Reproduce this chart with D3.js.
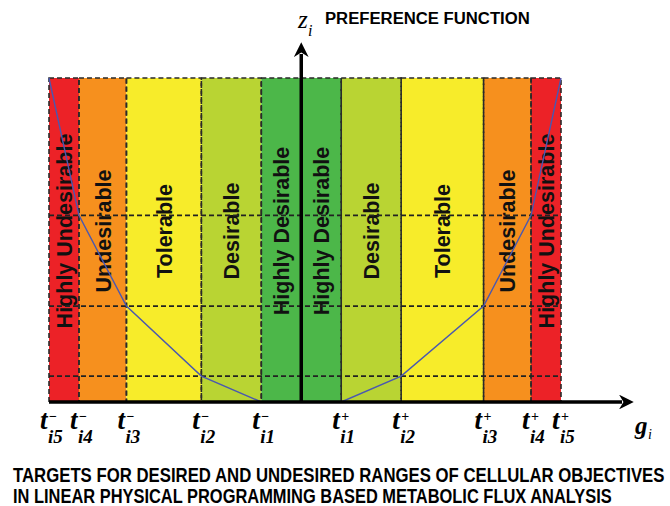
<!DOCTYPE html>
<html lang="en">
<head>
<meta charset="UTF-8">
<title>preference-function</title>
<script src="https://cdn.jsdelivr.net/npm/d3@7"></script>
<style>
    body { margin: 0; background: #fff; }
    svg { display: block; }
</style>
</head>
<body>
<svg id="chart"></svg>
<script>
// breakpoints on the g axis (t-i5 ... t+i5) and the preference value z at each
var gValues = [-10.1, -8.9, -7.0, -4.0, -1.6, 1.6, 4.0, 7.3, 9.2, 10.4];
var zValues = [12.5, 7.2, 3.7, 1, 0, 0, 1, 3.7, 7.2, 12.5];
var zLevels = [1, 3.7, 7.2];
var tickSigns = ["\u2212", "\u2212", "\u2212", "\u2212", "\u2212", "+", "+", "+", "+", "+"];
var tickSubs = ["i5", "i4", "i3", "i2", "i1", "i1", "i2", "i3", "i4", "i5"];

// bands between breakpoints (middle band is split by the z axis)
var bandEdges = [-10.1, -8.9, -7.0, -4.0, -1.6, 0, 1.6, 4.0, 7.3, 9.2, 10.4];
var bandLabels = ["Highly Undesirable", "Undesirable", "Tolerable", "Desirable", "Highly Desirable",
    "Highly Desirable", "Desirable", "Tolerable", "Undesirable", "Highly Undesirable"];
var bandColors = ["#ec2227", "#f6901e", "#f7ec2a", "#b9d433", "#4cb749",
    "#4cb749", "#b9d433", "#f7ec2a", "#f6901e", "#ec2227"];

var width = 670, height = 506;
var svg = d3.select("#chart").attr("width", width).attr("height", height);

var x = d3.scaleLinear().domain([-10.1, 10.4]).range([49, 561]);
var y = d3.scaleLinear().domain([0, 12.5]).range([402, 78]);

var bands = bandLabels.map(function (l, i) {
    return { label: l, color: bandColors[i], x0: bandEdges[i], x1: bandEdges[i + 1] };
});

// coloured bands
svg.append("g").selectAll("rect")
    .data(bands).enter().append("rect")
    .attr("x", function (d) { return x(d.x0); })
    .attr("y", y(12.5))
    .attr("width", function (d) { return x(d.x1) - x(d.x0); })
    .attr("height", y(0) - y(12.5))
    .attr("fill", function (d) { return d.color; });

// band labels, rotated
svg.append("g").selectAll("text")
    .data(bands).enter().append("text")
    .attr("transform", function (d) {
        var cx = (x(d.x0) + x(d.x1)) / 2 + 8;
        return "translate(" + cx + ",231) rotate(-90)";
    })
    .attr("text-anchor", "middle")
    .attr("font-family", "'Liberation Sans', Arial, sans-serif")
    .attr("font-weight", "bold")
    .attr("font-size", 21.5)
    .attr("fill", "#111")
    .text(function (d) { return d.label; });

// dashed borders
svg.append("g").selectAll("rect")
    .data(bands).enter().append("rect")
    .attr("x", function (d) { return x(d.x0); })
    .attr("y", y(12.5))
    .attr("width", function (d) { return x(d.x1) - x(d.x0); })
    .attr("height", y(0) - y(12.5))
    .attr("fill", "none")
    .attr("stroke", "#2a2a2a")
    .attr("stroke-width", 1.6)
    .attr("stroke-dasharray", "5,3");

// horizontal dashed levels
svg.append("g").selectAll("line")
    .data(zLevels).enter().append("line")
    .attr("x1", x(-10.1)).attr("x2", x(10.4))
    .attr("y1", function (d) { return y(d); })
    .attr("y2", function (d) { return y(d); })
    .attr("stroke", "#222")
    .attr("stroke-width", 1.6)
    .attr("stroke-dasharray", "5,3");

// preference curve
var line = d3.line()
    .x(function (d) { return x(d[0]); })
    .y(function (d) { return y(d[1]); });
svg.append("path")
    .datum(gValues.map(function (g, i) { return [g, zValues[i]]; }))
    .attr("d", line)
    .attr("fill", "none")
    .attr("stroke", "#4a58b0")
    .attr("stroke-width", 1.4);

// axes with arrows
svg.append("defs").append("marker")
    .attr("id", "arrow")
    .attr("viewBox", "0 0 10 10")
    .attr("refX", 2).attr("refY", 5)
    .attr("markerWidth", 4.2).attr("markerHeight", 4.2)
    .attr("orient", "auto")
    .attr("markerUnits", "strokeWidth")
    .append("path").attr("d", "M0,0 L10,5 L0,10 L3,5 Z").attr("fill", "#000");

svg.append("line")
    .attr("x1", x(-10.1)).attr("x2", 622)
    .attr("y1", y(0)).attr("y2", y(0))
    .attr("stroke", "#000").attr("stroke-width", 3.5)
    .attr("marker-end", "url(#arrow)");

svg.append("line")
    .attr("x1", x(0)).attr("x2", x(0))
    .attr("y1", y(0)).attr("y2", 54)
    .attr("stroke", "#000").attr("stroke-width", 3.5)
    .attr("marker-end", "url(#arrow)");

// tick labels t_{i}^{+/-}
var serif = "'Liberation Serif', 'Times New Roman', serif";
var ticks = svg.append("g").selectAll("g")
    .data(gValues).enter().append("g")
    .attr("transform", function (d) { return "translate(" + x(d) + ",0)"; });
ticks.append("text")
    .attr("x", -9).attr("y", 429)
    .attr("font-family", serif).attr("font-style", "italic").attr("font-weight", "bold")
    .attr("font-size", 27)
    .text("t");
ticks.append("text")
    .attr("x", 0).attr("y", 421)
    .attr("font-family", serif).attr("font-weight", "bold")
    .attr("font-size", 14)
    .text(function (d, i) { return tickSigns[i]; });
ticks.append("text")
    .attr("x", -1).attr("y", 443)
    .attr("font-family", serif).attr("font-style", "italic").attr("font-weight", "bold")
    .attr("font-size", 19)
    .text(function (d, i) { return tickSubs[i]; });

// axis names
svg.append("text")
    .attr("x", 635).attr("y", 434)
    .attr("font-family", serif).attr("font-style", "italic").attr("font-weight", "bold")
    .attr("font-size", 25)
    .text("g");
svg.append("text")
    .attr("x", 648).attr("y", 439)
    .attr("font-family", serif).attr("font-style", "italic")
    .attr("font-size", 14)
    .text("i");
svg.append("text")
    .attr("x", 298).attr("y", 28)
    .attr("font-family", serif).attr("font-style", "italic")
    .attr("font-size", 25)
    .text("z");
svg.append("text")
    .attr("x", 308).attr("y", 36)
    .attr("font-family", serif).attr("font-style", "italic")
    .attr("font-size", 16)
    .text("i");

// titles, squeezed horizontally to the reference widths
var sans = "'Liberation Sans', Arial, sans-serif";
function squeezed(tx, ty, size, w, str) {
    var t = svg.append("text")
        .attr("font-family", sans).attr("font-weight", "bold")
        .attr("font-size", size)
        .text(str);
    var natural = t.node().getComputedTextLength();
    t.attr("transform", "translate(" + tx + "," + ty + ") scale(" + (w / natural) + ",1)");
    return t;
}
squeezed(325, 24, 17, 205, "PREFERENCE FUNCTION");
squeezed(13, 482, 20, 652, "TARGETS FOR DESIRED AND UNDESIRED RANGES OF CELLULAR OBJECTIVES");
squeezed(13, 503, 20, 599, "IN LINEAR PHYSICAL PROGRAMMING BASED METABOLIC FLUX ANALYSIS");
</script>
</body>
</html>
